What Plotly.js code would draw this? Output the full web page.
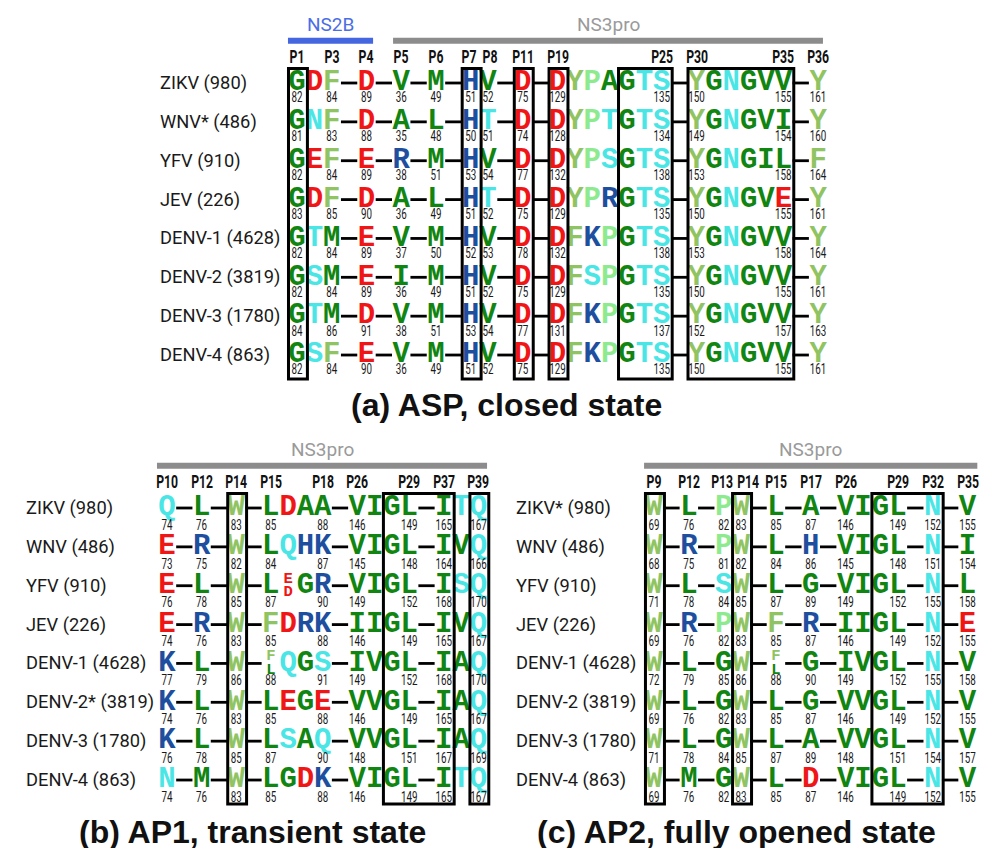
<!DOCTYPE html>
<html><head><meta charset="utf-8">
<script src="https://cdn.plot.ly/plotly-3.0.1.min.js"></script>
<style>html,body{margin:0;padding:0;background:#fff}</style>
</head><body><div id="chart" style="width:981px;height:848px"></div>
<script>
// ================= DATA =================
// Panel (a) ASP, closed state
const rowsA = ["ZIKV (980)","WNV* (486)","YFV (910)","JEV (226)","DENV-1 (4628)","DENV-2 (3819)","DENV-3 (1780)","DENV-4 (863)"];
const seqA = [
  "GDF-D-V-M-HV-D-DYPAGTS-YGNGVV-Y",
  "GNF-D-A-L-HT-D-DYPTGTS-YGNGVI-Y",
  "GEF-E-R-M-HV-D-DYPSGTS-YGNGIL-F",
  "GDF-D-A-L-HT-D-DYPRGTS-YGNGVE-Y",
  "GTM-E-V-M-HV-D-DFKPGTS-YGNGVV-Y",
  "GSM-E-I-M-HV-D-DFSPGTS-YGNGVV-Y",
  "GTM-D-V-M-HV-D-DFKPGTS-YGNGVV-Y",
  "GSF-E-V-M-HV-D-DFKPGTS-YGNGVV-Y"
];
const numColsA = [0,2,4,6,8,10,11,13,15,21,23,28,30];
const numsA = [
  [82,84,89,36,49,51,52,75,129,135,150,155,161],
  [81,83,88,35,48,50,51,74,128,134,149,154,160],
  [82,84,89,38,51,53,54,77,132,138,153,158,164],
  [83,85,90,36,49,51,52,75,129,135,150,155,161],
  [82,84,89,37,50,52,53,78,132,138,153,158,164],
  [82,84,89,36,49,51,52,75,129,135,150,155,161],
  [84,86,91,38,51,53,54,77,131,137,152,157,163],
  [82,84,90,36,49,51,52,75,129,135,150,155,161]
];
const posLabelsA = ["P1","P3","P4","P5","P6","P7","P8","P11","P19","P25","P30","P35","P36"];
const posColsA = [0,2,4,6,8,10,11,13,15,21,23,28,30];
const boxesA = [[0,0],[10,10],[13,13],[15,15],[19,21],[23,28]];
const regionsA = ["NS2B","NS3pro"];

// Panel (b) AP1, transient state
const rowsB = ["ZIKV (980)","WNV (486)","YFV (910)","JEV (226)","DENV-1 (4628)","DENV-2* (3819)","DENV-3 (1780)","DENV-4 (863)"];
const seqB = [
  "Q-L-W-LDAA-VIGL-ITQ",
  "E-R-W-LQHK-VIGL-IVQ",
  "E-L-W-L[ED]GR-VIGL-ISQ",
  "E-R-W-FDRK-IIGL-IVQ",
  "K-L-W-[FL]QGS-IVGL-IAQ",
  "K-L-W-LEGE-VVGL-IAQ",
  "K-L-W-LSAQ-VVGL-IAQ",
  "N-M-W-LGDK-VIGL-ITQ"
];
const numColsB = [0,2,4,6,9,11,14,16,18];
const numsB = [
  [74,76,83,85,88,146,149,165,167],
  [73,75,82,84,87,145,148,164,166],
  [76,78,85,87,90,149,152,168,170],
  [74,76,83,85,88,146,149,165,167],
  [77,79,86,88,91,149,152,168,170],
  [74,76,83,85,88,146,149,165,167],
  [76,78,85,87,90,148,151,167,169],
  [74,76,83,85,88,146,149,165,167]
];
const posLabelsB = ["P10","P12","P14","P15","P18","P26","P29","P37","P39"];
const posColsB = [0,2,4,6,9,11,14,16,18];
const boxesB = [[4,4],[13,16],[18,18]];
const regionsB = ["NS3pro"];

// Panel (c) AP2, fully opened state
const rowsC = ["ZIKV* (980)","WNV (486)","YFV (910)","JEV (226)","DENV-1 (4628)","DENV-2 (3819)","DENV-3 (1780)","DENV-4 (863)"];
const seqC = [
  "W-L-PW-L-A-VIGL-N-V",
  "W-R-PW-L-H-VIGL-N-I",
  "W-L-SW-L-G-VIGL-N-L",
  "W-R-PW-F-R-IIGL-N-E",
  "W-L-GW-[FL]-G-IVGL-N-V",
  "W-L-GW-L-G-VVGL-N-V",
  "W-L-GW-L-A-VVGL-N-V",
  "W-M-GW-L-D-VIGL-N-V"
];
const numColsC = [0,2,4,5,7,9,11,14,16,18];
const numsC = [
  [69,76,82,83,85,87,146,149,152,155],
  [68,75,81,82,84,86,145,148,151,154],
  [71,78,84,85,87,89,149,152,155,158],
  [69,76,82,83,85,87,146,149,152,155],
  [72,79,85,86,88,90,149,152,155,158],
  [69,76,82,83,85,87,146,149,152,155],
  [71,78,84,85,87,89,148,151,154,157],
  [69,76,82,83,85,87,146,149,152,155]
];
const posLabelsC = ["P9","P12","P13","P14","P15","P17","P26","P29","P32","P35"];
const posColsC = [0,2,4,5,7,9,11,14,16,18];
const boxesC = [[0,0],[5,5],[13,16]];
const regionsC = ["NS3pro"];

const titles = ["(a) ASP, closed state","(b) AP1, transient state","(c) AP2, fully opened state"];

// ================= STYLE =================
const W = 981, H = 848;
const residueColor = {
  G:'#118511',A:'#118511',V:'#118511',L:'#118511',I:'#118511',M:'#118511',
  D:'#f01616',E:'#f01616',
  H:'#1e4f9e',K:'#1e4f9e',R:'#1e4f9e',
  N:'#4ae6e6',Q:'#4ae6e6',S:'#4ae6e6',T:'#4ae6e6',
  F:'#90c462',Y:'#90c462',W:'#90c462',
  P:'#8eea8e'
};
const LETTER_FONT = 'Liberation Mono, Courier New, monospace';
const NUM_FONT = 'Roboto, Liberation Sans, sans-serif';
const LABEL_FONT = 'Roboto, Liberation Sans, sans-serif';
const TITLE_FONT = 'Liberation Sans, Arial, sans-serif';

const panels = [
  {xa:'x', ya:'y', rows:rowsA, seqs:seqA, numCols:numColsA, nums:numsA, pos:posLabelsA, posCols:posColsA, boxes:boxesA,
   regions:regionsA, geo:{x0:297, dx:17.37, y0:83, dy:38.86, labelX:158, numOff:0.41}, labelShift:{P7:-0.08,P8:0.1},
   bars:[{c0:-0.52,c1:4.38,bar:'#4466e0',txt:'#4a6ee6'},{c0:5.53,c1:30.28,bar:'#8c8c8c',txt:'#9a9a9a'}],
   title:{x:506,y:405}},
  {xa:'x2', ya:'y2', rows:rowsB, seqs:seqB, numCols:numColsB, nums:numsB, pos:posLabelsB, posCols:posColsB, boxes:boxesB,
   regions:regionsB, geo:{x0:167, dx:17.3, y0:508, dy:38.86, labelX:24, numOff:0.47}, labelShift:{},
   bars:[{c0:-0.58,c1:18.5,bar:'#8c8c8c',txt:'#9a9a9a'}],
   title:{x:252,y:832}},
  {xa:'x3', ya:'y3', rows:rowsC, seqs:seqC, numCols:numColsC, nums:numsC, pos:posLabelsC, posCols:posColsC, boxes:boxesC,
   regions:regionsC, geo:{x0:654, dx:17.42, y0:508, dy:38.86, labelX:514, numOff:0.47}, labelShift:{P13:-0.1,P14:0.38},
   bars:[{c0:-0.57,c1:18.56,bar:'#8c8c8c',txt:'#9a9a9a'}],
   title:{x:736,y:832}}
];

function parse(s){
  const out=[]; let c=0;
  for(let i=0;i<s.length;i++){
    const ch=s[i];
    if(ch==='['){const j=s.indexOf(']',i); out.push({col:c,stack:[s[i+1],s[i+2]]}); i=j;}
    else if(ch==='-'){out.push({col:c,dash:true});}
    else out.push({col:c,ch:ch});
    c++;
  }
  return out;
}

const traces=[], shapes=[], annotations=[];
const layout = {width:W,height:H,margin:{l:0,r:0,t:0,b:0},paper_bgcolor:'#fff',plot_bgcolor:'rgba(0,0,0,0)',
  showlegend:false,hovermode:false};

panels.forEach((p,pi)=>{
  const g=p.geo;
  const sfx = pi===0?'':String(pi+1);
  const axOpts={visible:false,showgrid:false,zeroline:false,fixedrange:true};
  layout['xaxis'+sfx]=Object.assign({range:[-g.x0/g.dx,(W-g.x0)/g.dx],domain:[0,1]},axOpts, pi?{overlaying:'x'}:{});
  layout['yaxis'+sfx]=Object.assign({range:[(H-g.y0)/g.dy,-g.y0/g.dy],domain:[0,1]},axOpts, pi?{overlaying:'y'}:{});

  const lx=[],ly=[],lt=[],lc=[];
  const sx=[],sy=[],st=[],sc=[];
  const dx=[],dy=[];
  const nx=[],ny=[],nt=[];
  p.seqs.forEach((s,r)=>{
    parse(s).forEach(t=>{
      if(t.dash){dx.push(t.col-0.47,t.col+0.47,null);dy.push(r,r,null);}
      else if(t.stack){
        sx.push(t.col,t.col); sy.push(r-0.18,r+0.17); st.push(t.stack[0],t.stack[1]);
        sc.push(residueColor[t.stack[0]],residueColor[t.stack[1]]);
      } else {lx.push(t.col);ly.push(r);lt.push(t.ch);lc.push(residueColor[t.ch]);}
    });
    p.numCols.forEach((c,k)=>{nx.push(c);ny.push(r+g.numOff);nt.push(String(p.nums[r][k]));});
    annotations.push({xref:'paper',yref:p.ya,x:g.labelX/W,y:r,text:p.rows[r],showarrow:false,xanchor:'left',yanchor:'middle',
      font:{family:LABEL_FONT,size:18.3,color:'#1a1a1a'}});
  });
  traces.push({type:'scatter',mode:'lines',xaxis:p.xa,yaxis:p.ya,x:dx,y:dy,line:{color:'#000',width:2.8},hoverinfo:'skip'});
  traces.push({type:'scatter',mode:'text',xaxis:p.xa,yaxis:p.ya,x:lx,y:ly,text:lt,textposition:'middle center',cliponaxis:false,
    textfont:{family:LETTER_FONT,size:29,weight:'bold',color:lc},hoverinfo:'skip'});
  traces.push({type:'scatter',mode:'text',xaxis:p.xa,yaxis:p.ya,x:sx,y:sy,text:st,textposition:'middle center',cliponaxis:false,
    textfont:{family:LETTER_FONT,size:15.5,weight:'bold',color:sc},hoverinfo:'skip'});
  traces.push({type:'scatter',mode:'text',xaxis:p.xa,yaxis:p.ya,x:nx,y:ny,text:nt,textposition:'middle center',cliponaxis:false,
    textfont:{family:NUM_FONT,size:14,color:'#1a1a1a'},hoverinfo:'skip'});
  p.pos.forEach((lab,k)=>{
    annotations.push({xref:p.xa,yref:p.ya,x:p.posCols[k]+(p.labelShift[lab]||0),y:-0.67,text:lab,showarrow:false,xanchor:'center',yanchor:'middle',
      font:{family:LABEL_FONT,size:18,weight:'bold',color:'#111'}});
  });
  p.boxes.forEach(b=>{
    shapes.push({type:'rect',xref:p.xa,yref:p.ya,x0:b[0]-0.49,x1:b[1]+0.6,y0:-0.37,y1:7.62,line:{color:'#000',width:3},fillcolor:'rgba(0,0,0,0)'});
  });
  p.regions.forEach((name,k)=>{
    const b=p.bars[k];
    shapes.push({type:'line',xref:p.xa,yref:p.ya,x0:b.c0,x1:b.c1,y0:-1.09,y1:-1.09,line:{color:b.bar,width:6}});
    annotations.push({xref:p.xa,yref:p.ya,x:(b.c0+b.c1)/2,y:-1.5,text:name,showarrow:false,xanchor:'center',yanchor:'middle',
      font:{family:LABEL_FONT,size:19,color:b.txt}});
  });
  annotations.push({xref:'paper',yref:'paper',x:p.title.x/W,y:1-p.title.y/H,text:'<b>'+titles[pi]+'</b>',showarrow:false,
    xanchor:'center',yanchor:'middle',font:{family:TITLE_FONT,size:32,color:'#111'}});
});
layout.shapes=shapes; layout.annotations=annotations;
Plotly.newPlot('chart',traces,layout,{staticPlot:true,displayModeBar:false}).then(()=>{
  // condense residue numbers and position labels (narrow font look)
  const squeeze=(el,f)=>{try{const w=el.getComputedTextLength();if(w>0){el.setAttribute('textLength',(w*f).toFixed(2));el.setAttribute('lengthAdjust','spacingAndGlyphs');}}catch(e){}};
  document.querySelectorAll('.textpoint text').forEach(el=>{if(/^\d+$/.test(el.textContent))squeeze(el,0.7);});
  document.querySelectorAll('text.annotation-text').forEach(el=>{if(/^P\d+$/.test(el.textContent))squeeze(el,0.68);});
});
</script></body></html>
